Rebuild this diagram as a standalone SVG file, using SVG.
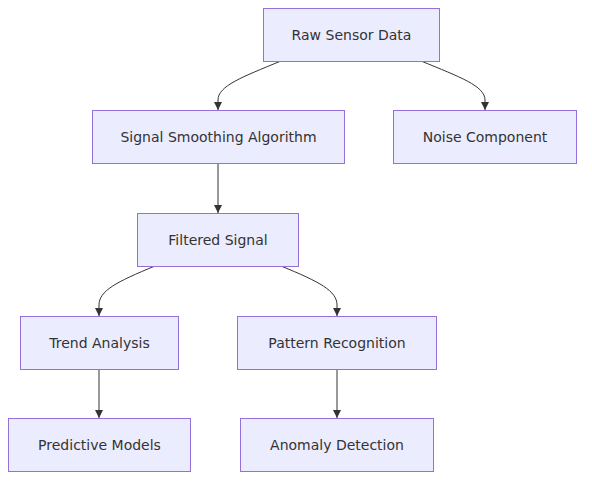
<svg xmlns="http://www.w3.org/2000/svg" width="592" height="486" viewBox="0 0 592 486">
<style>
.node rect{fill:#ECECFF;stroke:#9370DB;stroke-width:1px}
.node text{font-family:"DejaVu Sans",Verdana,sans-serif;font-size:14px;fill:#333;text-anchor:middle;dominant-baseline:central}
.edge{fill:none;stroke:#333;stroke-width:1px;marker-end:url(#arrow)}
</style>
<defs>
<marker id="arrow" viewBox="0 0 10 10" refX="10" refY="5" markerWidth="8" markerHeight="8" markerUnits="userSpaceOnUse" orient="auto">
<path d="M0,0 L10,5 L0,10 z" fill="#333"/>
</marker>
</defs>
<rect width="592" height="486" fill="#fff"/>
<g id="connectors">
<path class="edge" d="M281,61 C242,77 218,86 218,100 L218,110"/>
<path class="edge" d="M421,61 C460,77 485,86 485,100 L485,110"/>
<path class="edge" d="M218,163 L218,213"/>
<path class="edge" d="M155,266 C116,282 99,291 99,305 L99,316"/>
<path class="edge" d="M281,266 C320,282 337,291 337,305 L337,316"/>
<path class="edge" d="M99,369 L99,418"/>
<path class="edge" d="M337,369 L337,418"/>
</g>
<g id="raw" class="node"><rect x="263.5" y="8.5" width="176" height="53"/><text x="351.5" y="35">Raw Sensor Data</text></g>
<g id="smooth" class="node"><rect x="92.5" y="110.5" width="252" height="53"/><text x="218.5" y="137">Signal Smoothing Algorithm</text></g>
<g id="noise" class="node"><rect x="393.5" y="110.5" width="183" height="53"/><text x="485" y="137">Noise Component</text></g>
<g id="filtered" class="node"><rect x="137.5" y="213.5" width="161" height="53"/><text x="218" y="240">Filtered Signal</text></g>
<g id="trend" class="node"><rect x="20.5" y="316.5" width="158" height="53"/><text x="99.5" y="343">Trend Analysis</text></g>
<g id="pattern" class="node"><rect x="237.5" y="316.5" width="199" height="53"/><text x="337" y="343">Pattern Recognition</text></g>
<g id="predictive" class="node"><rect x="8.5" y="418.5" width="182" height="53"/><text x="99.5" y="445">Predictive Models</text></g>
<g id="anomaly" class="node"><rect x="240.5" y="418.5" width="193" height="53"/><text x="337" y="445">Anomaly Detection</text></g>
</svg>
